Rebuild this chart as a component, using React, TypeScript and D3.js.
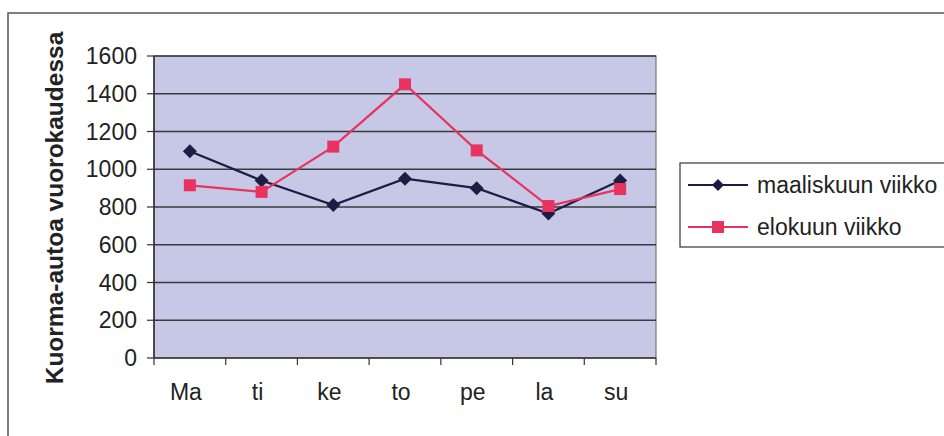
import React from "react";
import * as d3 from "d3";

// Weekday categories and daily truck counts for two sample weeks
const days = ["Ma", "ti", "ke", "to", "pe", "la", "su"];
const marchWeek = [1095, 940, 810, 950, 900, 765, 940];
const augustWeek = [915, 880, 1120, 1450, 1100, 805, 895];
const yTicks = [0, 200, 400, 600, 800, 1000, 1200, 1400, 1600];
const seriesNames = ["maaliskuun viikko", "elokuun viikko"];
const yTitle = "Kuorma-autoa vuorokaudessa";

const W = 944;
const H = 436;
const plot = { left: 154, right: 656, top: 56, bottom: 358 };
const FONT = "'Liberation Sans', Arial, sans-serif";

const navy = "#1c1c44";
const red = "#e8335f";

export default function App() {
  const x = d3
    .scaleBand<string>()
    .domain(days)
    .range([plot.left, plot.right])
    .paddingInner(0)
    .paddingOuter(0);
  const y = d3.scaleLinear().domain([0, 1600]).range([plot.bottom, plot.top]);
  const cx = (d: string) => (x(d) as number) + x.bandwidth() / 2;

  const line = d3
    .line<number>()
    .x((_, i) => cx(days[i]))
    .y((v) => y(v));

  const diamond = (px: number, py: number, r: number) =>
    `M${px},${py - r}L${px + r},${py}L${px},${py + r}L${px - r},${py}Z`;

  const tickEdges = [...days.map((d) => x(d) as number), plot.right];

  return (
    <svg
      width={W}
      height={H}
      style={{ position: "absolute", left: 0, top: 0, background: "#fff" }}
      fontFamily={FONT}
    >
      {/* chart frame */}
      <rect x={8} y={13} width={W + 20} height={H + 20} fill="#fff" stroke="#555" strokeWidth={1.5} />

      {/* plot area */}
      <rect
        x={plot.left}
        y={plot.top}
        width={plot.right - plot.left}
        height={plot.bottom - plot.top}
        fill="#c7c8e6"
        stroke="#777"
        strokeWidth={1.2}
      />

      {/* horizontal gridlines */}
      {yTicks.slice(1).map((t) => (
        <line
          key={t}
          x1={plot.left}
          x2={plot.right}
          y1={y(t)}
          y2={y(t)}
          stroke="#3a3a3e"
          strokeWidth={1.4}
        />
      ))}

      {/* y axis */}
      <line x1={plot.left} x2={plot.left} y1={plot.top} y2={plot.bottom} stroke="#333" strokeWidth={1.6} />
      {yTicks.map((t) => (
        <g key={t}>
          <line x1={plot.left - 7} x2={plot.left} y1={y(t)} y2={y(t)} stroke="#333" strokeWidth={1.2} />
          <text
            x={plot.left - 17}
            y={y(t)}
            textAnchor="end"
            dominantBaseline="central"
            fontSize={23}
            fill="#222"
          >
            {t}
          </text>
        </g>
      ))}

      {/* x axis */}
      <line x1={plot.left} x2={plot.right} y1={plot.bottom} y2={plot.bottom} stroke="#333" strokeWidth={1.6} />
      {tickEdges.map((tx, i) => (
        <line key={i} x1={tx} x2={tx} y1={plot.bottom} y2={plot.bottom + 7} stroke="#333" strokeWidth={1.2} />
      ))}
      {days.map((d) => (
        <text key={d} x={cx(d) - 4} y={plot.bottom + 42} textAnchor="middle" fontSize={23} fill="#222">
          {d}
        </text>
      ))}

      {/* y axis title */}
      <text
        transform={`translate(54,${(plot.top + plot.bottom) / 2 + 1}) rotate(-90)`}
        textAnchor="middle"
        dominantBaseline="central"
        fontSize={24.5}
        fontWeight="bold"
        fill="#222"
      >
        {yTitle}
      </text>

      {/* series lines */}
      <path d={line(marchWeek) as string} fill="none" stroke={navy} strokeWidth={2.2} />
      <path d={line(augustWeek) as string} fill="none" stroke={red} strokeWidth={2.2} />

      {/* markers */}
      {marchWeek.map((v, i) => (
        <path key={"m" + i} d={diamond(cx(days[i]), y(v), 7)} fill={navy} />
      ))}
      {augustWeek.map((v, i) => (
        <rect
          key={"a" + i}
          x={cx(days[i]) - 6}
          y={y(v) - 6}
          width={12}
          height={12}
          fill={red}
        />
      ))}

      {/* legend */}
      <rect x={680} y={163} width={300} height={84} fill="#fff" stroke="#444" strokeWidth={1.3} />
      <line x1={688} x2={748} y1={185} y2={185} stroke={navy} strokeWidth={2} />
      <path d={diamond(718, 185, 6)} fill={navy} />
      <text x={757} y={185} dominantBaseline="central" fontSize={23} fill="#222">
        {seriesNames[0]}
      </text>
      <line x1={688} x2={748} y1={227} y2={227} stroke={red} strokeWidth={2} />
      <rect x={712} y={221} width={12} height={12} fill={red} />
      <text x={757} y={227} dominantBaseline="central" fontSize={23} fill="#222">
        {seriesNames[1]}
      </text>
    </svg>
  );
}
